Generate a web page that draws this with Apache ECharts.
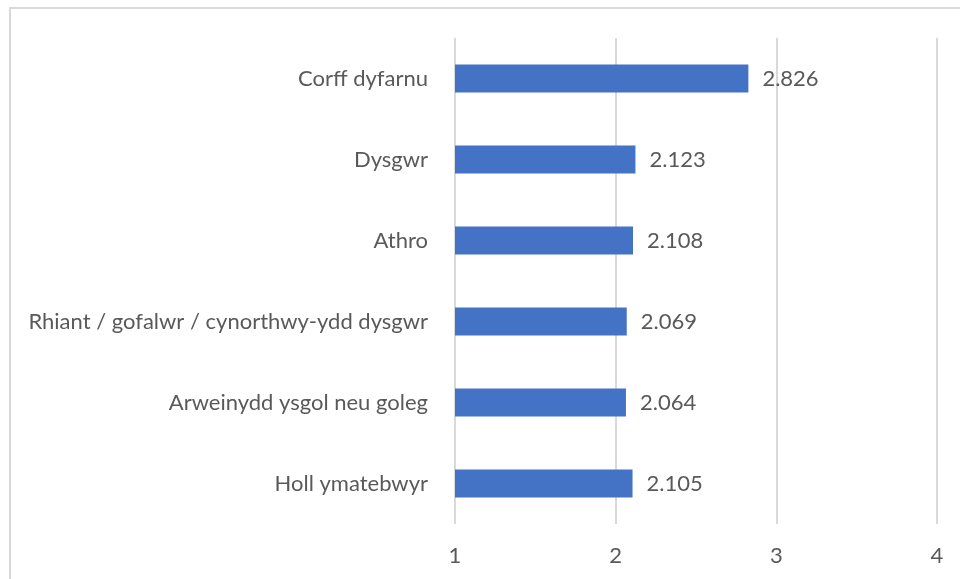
<!DOCTYPE html>
<html><head><meta charset="utf-8">
<script src="https://cdn.jsdelivr.net/npm/echarts@6/dist/echarts.min.js"></script>
<style>html,body{margin:0;padding:0;background:#fff}#c{width:960px;height:579px}</style>
</head><body><div id="c"></div>
<script>
const categories = ["Corff dyfarnu", "Dysgwr", "Athro", "Rhiant / gofalwr / cynorthwy-ydd dysgwr", "Arweinydd ysgol neu goleg", "Holl ymatebwyr"];
const values = [2.826, 2.123, 2.108, 2.069, 2.064, 2.105];
const xTicks = [1, 2, 3, 4];

const chart = echarts.init(document.getElementById('c'), null, {renderer: 'canvas'});
const font = 'Lato, "Open Sans", sans-serif';
chart.setOption({
  animation: false,
  graphic: [{type: 'rect', shape: {x: 10, y: 8, width: 960, height: 580}, style: {fill: 'none', stroke: '#d9d9d9', lineWidth: 2}, z: -1}],
  grid: {left: 455, right: 23, top: 38, bottom: 55, containLabel: false},
  xAxis: {
    type: 'value', min: xTicks[0], max: xTicks[xTicks.length-1], interval: 1,
    axisLine: {show: false}, axisTick: {show: false},
    splitLine: {lineStyle: {color: '#d9d9d9', width: 2}},
    axisLabel: {color: '#595959', fontSize: 22, fontFamily: font, margin: 21}
  },
  yAxis: {
    type: 'category', data: categories, inverse: true,
    axisLine: {show: false}, axisTick: {show: false},
    axisLabel: {color: '#595959', fontSize: 22, fontFamily: font, margin: 27}
  },
  series: [{
    type: 'bar', data: values, barWidth: 28,
    itemStyle: {color: '#4472C4'},
    label: {show: true, position: 'right', distance: 14, color: '#595959', fontSize: 22, fontFamily: font,
      formatter: p => p.value.toFixed(3)}
  }]
});
</script></body></html>
